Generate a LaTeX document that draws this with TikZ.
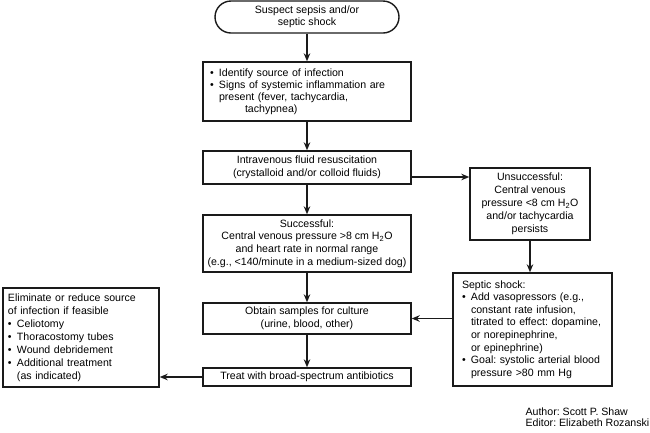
\documentclass[tikz,border=0pt]{standalone}
\usepackage{fontspec}
\setmainfont{Liberation Sans}
\usetikzlibrary{arrows.meta, calc}
\definecolor{cline}{HTML}{1A1A1A}
\frenchspacing
\newcommand{\bul}{\makebox[9pt][l]{\textbullet}}
\newcommand{\cont}{\hspace*{9pt}}
\tikzset{
  every picture/.style={line width=1.4pt},
  box/.style={draw=cline, align=center, inner sep=2pt, font=\fontsize{10.6}{12.6}\selectfont},
  listbox/.style={box, align=left, inner xsep=#1},
  arrow/.style={-{Stealth[length=8pt, width=6.5pt]}, draw=cline, line width=1.3pt},
  note/.style={font=\fontsize{10.6}{10.5}\selectfont, align=left, inner sep=0pt},
}
\begin{document}
\begin{tikzpicture}[x=1pt, y=-1pt]
  \useasboundingbox (0,0) rectangle (650,432);
  % main column
  \node[box, rounded corners=16pt, minimum width=184pt, minimum height=32pt,
        font=\fontsize{10.6}{11.5}\selectfont] (suspect) at (307,17) {Suspect sepsis and/or\\septic shock};
  \node[listbox=7pt, text width=194pt, minimum height=59pt,
        font=\fontsize{10.6}{12}\selectfont] (source) at (307,91.5)
    {\bul Identify source of infection\\\bul Signs of systemic inflammation are\\\cont present (fever, tachycardia,\\\hspace*{35pt}tachypnea)};
  \node[box, minimum width=208pt, minimum height=33pt] (fluids) at (307,167.5)
    {Intravenous fluid resuscitation\\(crystalloid and/or colloid fluids)};
  \node[box, minimum width=208pt, minimum height=57pt] (success) at (307,243.5)
    {Successful:\\Central venous pressure >8 cm H\textsubscript{2}O\\and heart rate in normal range\\(e.g., <140/minute in a medium-sized dog)};
  \node[box, minimum width=208pt, minimum height=31pt] (samples) at (307,318.5)
    {Obtain samples for culture\\(urine, blood, other)};
  \node[box, minimum width=208pt, minimum height=18pt] (antibio) at (307,377)
    {Treat with broad-spectrum antibiotics};
  % right column
  \node[box, minimum width=120pt, minimum height=72pt, font=\fontsize{10.6}{13}\selectfont] (unsucc) at (530,204)
    {Unsuccessful:\\Central venous\\pressure <8 cm H\textsubscript{2}O\\and/or tachycardia\\persists};
  \node[listbox=9pt, text width=141pt, minimum height=113pt] (shock) at (532.5,329.5)
    {Septic shock:\\\bul Add vasopressors (e.g.,\\\cont constant rate infusion,\\\cont titrated to effect: dopamine,\\\cont or norepinephrine,\\\cont or epinephrine)\\\bul Goal: systolic arterial blood\\\cont pressure >80 mm Hg};
  % left column
  \node[listbox=5pt, text width=146pt, minimum height=99pt, font=\fontsize{10.6}{13}\selectfont] (remove) at (81,337.5)
    {Eliminate or reduce source\\of infection if feasible\\\bul Celiotomy\\\bul Thoracostomy tubes\\\bul Wound debridement\\\bul Additional treatment\\\cont (as indicated)};
  \node[note, anchor=east] (credit) at (650,417) {Author: Scott P. Shaw\\Editor: Elizabeth Rozanski};
  % connectors
  \draw[arrow] (suspect) -- (source);
  \draw[arrow] (source) -- (fluids);
  \draw[arrow] (fluids) -- (success);
  \draw[arrow] (success) -- (samples);
  \draw[arrow] (samples) -- (antibio);
  \draw[arrow] ([yshift=-9.5pt]fluids.east) -- ([yshift=-9.5pt]fluids.east -| unsucc.west);
  \draw[arrow] (unsucc.south) -- (unsucc.south |- shock.north);
  \draw[arrow] (shock.west |- samples.east) -- (samples.east);
  \draw[arrow] (antibio.west) -- (antibio.west -| remove.east);
\end{tikzpicture}
\end{document}
